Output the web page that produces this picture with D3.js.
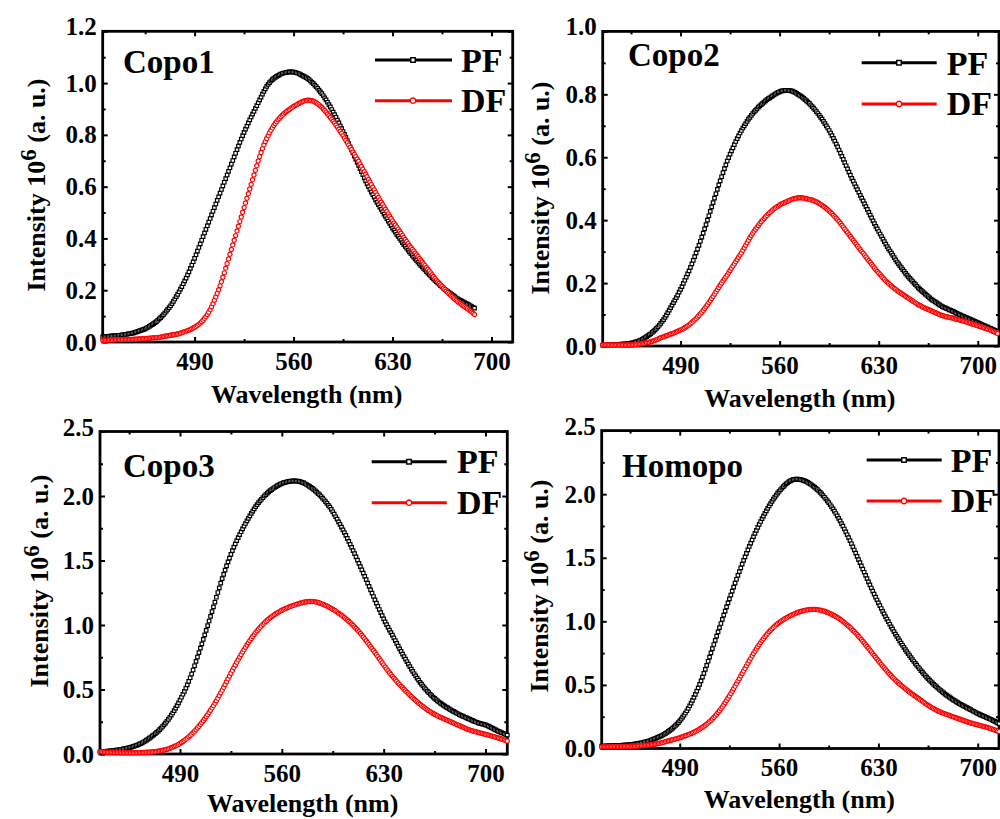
<!DOCTYPE html>
<html><head><meta charset="utf-8">
<script src="https://cdn.jsdelivr.net/npm/d3@7"></script>
<style>body{margin:0;background:#fff}svg{display:block}</style>
</head><body>
<svg id="chart" width="1000" height="819"></svg>
<script>
// ---------------- data ----------------
const panelNames = ["Copo1", "Copo2", "Copo3", "Homopo"];
const seriesNames = ["PF", "DF"];
const xTitle = "Wavelength (nm)";
const xTickValues = [490, 560, 630, 700];
const xMinorValues = [455, 525, 595, 665];
const yTicksCopo1 = [0, 0.2, 0.4, 0.6, 0.8, 1.0, 1.2];
const yTicksCopo2 = [0, 0.2, 0.4, 0.6, 0.8, 1.0];
const yTicksCopo3 = [0, 0.5, 1.0, 1.5, 2.0, 2.5];
const yTicksHomopo = [0, 0.5, 1.0, 1.5, 2.0, 2.5];

// spectra sampled every 1 nm, first wavelength given by *Start
const copo1Start = 425;
const copo1PF = [
.020,.021,.021,.022,.022,.023,.023,.024,.024,.025,
.025,.026,.026,.027,.028,.028,.029,.030,.031,.032,
.033,.034,.035,.037,.039,.041,.043,.045,.047,.049,
.051,.054,.057,.060,.064,.067,.071,.075,.079,.084,
.089,.094,.100,.106,.112,.119,.126,.133,.140,.148,
.157,.166,.175,.184,.194,.204,.214,.225,.236,.247,
.259,.271,.284,.297,.310,.323,.337,.351,.365,.379,
.393,.407,.421,.435,.449,.463,.477,.491,.505,.519,
.533,.547,.561,.575,.589,.603,.617,.631,.645,.659,
.673,.687,.701,.715,.729,.743,.757,.771,.784,.797,
.810,.822,.834,.846,.858,.869,.880,.891,.902,.913,
.924,.935,.946,.957,.968,.978,.987,.995,1.002,1.008,
1.013,1.018,1.022,1.026,1.029,1.032,1.035,1.037,1.039,1.040,
1.041,1.042,1.043,1.043,1.043,1.042,1.041,1.040,1.038,1.036,
1.033,1.030,1.027,1.024,1.021,1.017,1.013,1.008,1.003,.998,
.992,.986,.980,.973,.966,.959,.951,.943,.935,.926,
.917,.908,.898,.888,.878,.868,.857,.846,.835,.824,
.813,.802,.790,.778,.766,.754,.742,.730,.718,.706,
.694,.682,.670,.658,.646,.634,.622,.611,.600,.589,
.579,.569,.559,.549,.539,.530,.521,.512,.503,.494,
.485,.476,.467,.458,.449,.440,.432,.424,.416,.408,
.400,.392,.384,.376,.369,.362,.355,.348,.341,.334,
.328,.321,.315,.308,.302,.296,.290,.284,.278,.272,
.266,.260,.255,.249,.244,.238,.233,.228,.223,.218,
.213,.208,.203,.199,.195,.191,.187,.183,.179,.175,
.171,.167,.164,.161,.158,.155,.152,.149,.146,.143,
.140,.137,.134,.131];
const copo1DF = [
.007,.007,.007,.007,.008,.008,.008,.008,.008,.009,
.009,.009,.009,.009,.009,.010,.010,.010,.010,.010,
.010,.010,.011,.011,.011,.012,.012,.012,.013,.013,
.013,.014,.014,.015,.015,.016,.016,.017,.017,.018,
.018,.019,.020,.021,.022,.023,.024,.025,.026,.027,
.028,.029,.030,.031,.032,.034,.036,.038,.040,.042,
.044,.046,.048,.051,.054,.057,.060,.064,.068,.073,
.078,.084,.091,.098,.106,.115,.125,.136,.148,.161,
.174,.188,.202,.217,.233,.250,.267,.285,.303,.321,
.339,.357,.375,.393,.411,.429,.447,.465,.483,.501,
.519,.537,.555,.573,.591,.609,.627,.645,.663,.681,
.699,.716,.732,.747,.761,.774,.786,.797,.808,.818,
.827,.836,.844,.851,.858,.864,.870,.876,.881,.886,
.890,.894,.898,.902,.906,.910,.913,.916,.919,.922,
.925,.928,.930,.932,.933,.934,.934,.933,.932,.930,
.927,.924,.920,.916,.911,.906,.900,.894,.888,.881,
.874,.867,.860,.853,.846,.838,.830,.822,.814,.806,
.797,.788,.779,.770,.761,.752,.743,.734,.725,.716,
.707,.698,.688,.678,.668,.658,.648,.638,.628,.618,
.608,.598,.588,.578,.568,.558,.549,.540,.531,.522,
.513,.504,.495,.486,.477,.468,.460,.452,.444,.436,
.428,.420,.412,.404,.396,.388,.380,.372,.365,.358,
.351,.344,.337,.330,.323,.316,.309,.302,.295,.288,
.281,.274,.267,.260,.253,.246,.239,.233,.227,.221,
.215,.209,.203,.197,.191,.186,.181,.176,.171,.166,
.161,.156,.152,.148,.144,.140,.136,.132,.128,.124,
.120,.116,.111,.106];

const copo2Start = 435;
const copo2PF = [
.003,.003,.003,.003,.003,.004,.004,.004,.004,.005,
.005,.005,.005,.006,.006,.006,.007,.007,.008,.008,
.009,.010,.011,.012,.014,.015,.017,.019,.021,.024,
.027,.030,.033,.036,.039,.043,.047,.051,.056,.061,
.066,.072,.078,.084,.091,.098,.106,.114,.122,.130,
.138,.146,.154,.162,.171,.180,.189,.199,.209,.219,
.229,.239,.250,.261,.272,.284,.296,.308,.320,.333,
.346,.359,.372,.386,.400,.414,.428,.442,.456,.470,
.484,.498,.512,.525,.538,.551,.564,.576,.588,.599,
.610,.620,.630,.640,.650,.659,.668,.677,.685,.693,
.700,.707,.714,.721,.727,.733,.739,.744,.749,.754,
.759,.763,.767,.771,.775,.779,.783,.786,.789,.792,
.795,.798,.801,.804,.806,.808,.810,.811,.812,.813,
.813,.813,.812,.811,.810,.808,.806,.803,.800,.797,
.794,.791,.787,.783,.779,.775,.771,.766,.761,.756,
.751,.745,.739,.733,.727,.721,.714,.707,.700,.693,
.685,.677,.669,.660,.651,.642,.633,.623,.613,.603,
.593,.583,.573,.563,.553,.543,.533,.524,.515,.506,
.497,.488,.479,.470,.461,.452,.443,.434,.425,.416,
.407,.398,.389,.380,.372,.364,.356,.348,.340,.332,
.324,.316,.309,.302,.295,.288,.281,.274,.267,.261,
.255,.249,.243,.237,.231,.225,.220,.215,.210,.205,
.200,.195,.190,.185,.181,.177,.173,.169,.165,.161,
.157,.153,.149,.146,.143,.140,.137,.134,.131,.128,
.125,.123,.121,.119,.117,.115,.113,.111,.109,.107,
.104,.102,.100,.098,.096,.094,.092,.090,.088,.086,
.084,.082,.080,.078,.076,.074,.072,.070,.068,.066,
.064,.062,.060,.058,.056,.054,.052,.050,.048,.046];
const copo2DF = [
.003,.003,.003,.003,.003,.003,.003,.003,.003,.003,
.003,.003,.003,.003,.003,.003,.003,.003,.003,.003,
.003,.003,.004,.005,.005,.006,.006,.007,.008,.008,
.009,.010,.011,.012,.014,.015,.017,.018,.020,.022,
.024,.026,.028,.029,.031,.033,.034,.036,.038,.039,
.041,.043,.045,.047,.049,.051,.053,.055,.058,.061,
.064,.067,.071,.075,.079,.083,.087,.092,.097,.102,
.107,.113,.119,.125,.131,.138,.144,.151,.158,.165,
.172,.179,.186,.193,.200,.207,.213,.219,.226,.233,
.240,.247,.254,.261,.268,.275,.282,.289,.296,.304,
.312,.320,.328,.336,.344,.351,.358,.365,.371,.377,
.383,.389,.395,.400,.405,.410,.415,.420,.424,.428,
.432,.436,.439,.442,.445,.448,.451,.453,.455,.457,
.459,.461,.463,.465,.467,.468,.469,.470,.471,.471,
.471,.471,.470,.469,.468,.467,.466,.465,.464,.462,
.460,.458,.456,.453,.450,.447,.444,.441,.437,.433,
.429,.425,.421,.416,.411,.406,.401,.396,.390,.384,
.378,.372,.366,.360,.354,.348,.342,.336,.330,.324,
.318,.312,.306,.300,.295,.289,.283,.277,.271,.266,
.260,.254,.248,.242,.237,.232,.227,.222,.217,.212,
.207,.203,.199,.195,.191,.187,.183,.180,.176,.173,
.170,.167,.164,.161,.158,.155,.152,.149,.146,.143,
.140,.137,.134,.131,.129,.127,.124,.122,.120,.118,
.116,.114,.112,.110,.108,.106,.104,.102,.100,.098,
.097,.095,.094,.093,.092,.091,.090,.089,.088,.086,
.085,.084,.083,.081,.080,.079,.078,.076,.075,.073,
.072,.070,.069,.067,.066,.064,.063,.061,.060,.058,
.057,.055,.054,.052,.050,.048,.046,.044,.042,.040];

const copo3Start = 435;
const copo3PF = [
.017,.018,.019,.020,.021,.022,.023,.024,.025,.027,
.028,.030,.031,.033,.035,.037,.039,.041,.043,.046,
.049,.052,.055,.059,.063,.067,.071,.076,.081,.087,
.093,.100,.107,.115,.123,.131,.140,.149,.158,.168,
.178,.189,.201,.213,.226,.240,.254,.269,.285,.301,
.318,.336,.355,.375,.396,.418,.440,.463,.486,.510,
.536,.563,.591,.620,.651,.684,.718,.752,.786,.820,
.854,.889,.924,.959,.995,1.031,1.067,1.104,1.141,1.178,
1.215,1.252,1.288,1.324,1.359,1.393,1.426,1.458,1.489,1.519,
1.548,1.576,1.603,1.629,1.654,1.678,1.701,1.723,1.745,1.766,
1.787,1.807,1.827,1.846,1.865,1.883,1.900,1.917,1.933,1.948,
1.962,1.975,1.988,2.000,2.011,2.022,2.032,2.041,2.050,2.058,
2.066,2.073,2.080,2.086,2.092,2.097,2.101,2.105,2.108,2.111,
2.113,2.115,2.116,2.117,2.117,2.116,2.115,2.113,2.110,2.106,
2.101,2.095,2.089,2.082,2.075,2.067,2.059,2.050,2.040,2.030,
2.019,2.008,1.996,1.984,1.971,1.957,1.943,1.928,1.913,1.897,
1.878,1.859,1.839,1.820,1.800,1.780,1.759,1.738,1.716,1.694,
1.671,1.648,1.625,1.601,1.577,1.553,1.528,1.503,1.478,1.453,
1.428,1.402,1.377,1.351,1.325,1.299,1.273,1.247,1.221,1.195,
1.170,1.145,1.120,1.096,1.072,1.048,1.025,1.003,.982,.961,
.941,.921,.900,.879,.857,.836,.815,.795,.775,.755,
.735,.715,.696,.677,.658,.640,.622,.605,.588,.572,
.556,.541,.527,.513,.500,.487,.475,.463,.452,.441,
.431,.421,.412,.403,.395,.387,.379,.371,.364,.357,
.350,.343,.336,.330,.324,.318,.312,.306,.300,.295,
.290,.285,.280,.275,.270,.265,.260,.255,.250,.246,
.242,.238,.235,.232,.229,.225,.221,.216,.211,.205,
.199,.193,.187,.181,.176,.171,.166,.161,.156,.151,.147];
const copo3DF = [
.018,.017,.016,.015,.015,.014,.014,.013,.013,.012,
.012,.012,.011,.011,.011,.010,.010,.010,.010,.010,
.010,.010,.010,.010,.010,.010,.010,.011,.011,.011,
.012,.012,.013,.013,.014,.015,.016,.017,.018,.020,
.022,.024,.026,.028,.031,.034,.037,.040,.044,.048,
.053,.058,.063,.069,.075,.082,.089,.097,.105,.114,
.123,.133,.143,.154,.165,.177,.189,.202,.215,.229,
.243,.258,.273,.289,.305,.322,.339,.357,.375,.394,
.413,.433,.453,.474,.495,.516,.538,.560,.582,.604,
.626,.648,.669,.690,.711,.731,.751,.771,.790,.809,
.827,.845,.862,.879,.895,.911,.926,.941,.955,.968,
.981,.993,1.005,1.016,1.027,1.037,1.047,1.056,1.065,1.073,
1.081,1.088,1.095,1.102,1.108,1.114,1.120,1.125,1.130,1.135,
1.140,1.144,1.148,1.152,1.156,1.160,1.164,1.167,1.170,1.173,
1.176,1.178,1.180,1.181,1.182,1.182,1.182,1.181,1.179,1.177,
1.174,1.170,1.166,1.162,1.157,1.152,1.147,1.141,1.135,1.129,
1.122,1.115,1.108,1.100,1.092,1.084,1.076,1.067,1.058,1.049,
1.039,1.029,1.019,1.008,.997,.985,.973,.961,.948,.935,
.921,.907,.893,.878,.863,.848,.833,.818,.803,.787,
.771,.755,.739,.723,.707,.691,.675,.660,.645,.630,
.616,.602,.589,.576,.563,.550,.538,.526,.514,.502,
.490,.479,.468,.457,.446,.435,.425,.415,.405,.395,
.386,.377,.368,.359,.351,.343,.335,.328,.321,.314,
.308,.302,.296,.290,.285,.280,.275,.270,.265,.260,
.255,.250,.245,.240,.235,.230,.225,.220,.215,.210,
.205,.200,.195,.191,.187,.183,.179,.176,.173,.170,
.167,.164,.161,.158,.155,.152,.149,.146,.143,.140,
.137,.134,.131,.128,.124,.120,.116,.112,.108,.104,.100];

const homopoStart = 435;
const homopoPF = [
.018,.018,.019,.019,.020,.020,.021,.021,.022,.022,
.023,.023,.024,.024,.025,.026,.027,.027,.028,.029,
.030,.031,.032,.034,.036,.038,.040,.042,.044,.047,
.050,.053,.056,.059,.063,.067,.071,.075,.080,.085,
.090,.095,.100,.106,.112,.119,.126,.134,.142,.151,
.160,.170,.181,.192,.204,.217,.231,.246,.262,.279,
.297,.316,.336,.357,.379,.402,.426,.451,.477,.504,
.532,.561,.591,.622,.654,.686,.719,.752,.785,.818,
.851,.884,.917,.950,.983,1.016,1.049,1.081,1.113,1.145,
1.176,1.207,1.238,1.269,1.300,1.331,1.361,1.391,1.421,1.450,
1.479,1.507,1.535,1.562,1.589,1.615,1.641,1.666,1.691,1.715,
1.739,1.762,1.785,1.807,1.828,1.849,1.869,1.889,1.908,1.926,
1.944,1.961,1.977,1.993,2.008,2.022,2.035,2.048,2.060,2.071,
2.081,2.090,2.098,2.105,2.110,2.114,2.117,2.118,2.118,2.117,
2.115,2.112,2.109,2.105,2.100,2.094,2.087,2.080,2.072,2.064,
2.055,2.046,2.036,2.025,2.014,2.002,1.989,1.976,1.962,1.948,
1.933,1.917,1.901,1.884,1.866,1.848,1.829,1.810,1.790,1.769,
1.748,1.726,1.704,1.681,1.658,1.634,1.610,1.586,1.561,1.536,
1.511,1.486,1.461,1.436,1.411,1.386,1.361,1.336,1.311,1.286,
1.262,1.238,1.214,1.191,1.168,1.145,1.123,1.101,1.079,1.058,
1.037,1.017,.997,.977,.957,.938,.919,.900,.882,.864,
.846,.829,.812,.795,.778,.762,.746,.730,.714,.699,
.684,.669,.655,.641,.627,.613,.600,.587,.574,.562,
.550,.538,.527,.516,.505,.494,.484,.474,.464,.455,
.446,.437,.428,.420,.412,.404,.396,.388,.381,.374,
.367,.360,.353,.347,.341,.335,.329,.323,.317,.311,
.305,.299,.293,.287,.281,.275,.270,.265,.260,.255,
.250,.245,.240,.235,.230,.225,.219,.213,.207,.201,.195];
const homopoDF = [
.013,.013,.013,.013,.014,.014,.014,.014,.015,.015,
.015,.015,.016,.016,.016,.016,.017,.017,.017,.017,
.018,.018,.018,.019,.019,.020,.021,.021,.022,.023,
.024,.025,.026,.027,.028,.030,.031,.033,.035,.037,
.039,.042,.044,.047,.050,.054,.057,.060,.063,.066,
.069,.072,.075,.078,.081,.084,.088,.092,.096,.100,
.104,.109,.113,.118,.123,.128,.134,.140,.146,.153,
.160,.167,.175,.183,.192,.201,.211,.221,.232,.244,
.256,.269,.283,.297,.312,.327,.343,.360,.377,.395,
.413,.432,.451,.470,.490,.510,.530,.550,.570,.590,
.610,.630,.650,.670,.690,.709,.728,.747,.765,.783,
.800,.817,.833,.849,.864,.878,.892,.905,.918,.930,
.941,.952,.962,.972,.981,.990,.998,1.006,1.013,1.020,
1.027,1.033,1.039,1.045,1.050,1.055,1.060,1.065,1.069,1.073,
1.077,1.080,1.083,1.086,1.088,1.090,1.092,1.093,1.094,1.094,
1.094,1.093,1.092,1.090,1.088,1.085,1.082,1.079,1.075,1.071,
1.066,1.061,1.056,1.050,1.044,1.038,1.031,1.024,1.016,1.008,
1.000,.991,.982,.972,.962,.952,.941,.930,.919,.907,
.895,.883,.870,.857,.844,.830,.816,.802,.788,.774,
.760,.746,.732,.718,.704,.690,.676,.662,.648,.635,
.622,.609,.596,.584,.572,.560,.549,.538,.527,.517,
.507,.497,.488,.479,.470,.461,.452,.443,.435,.427,
.419,.411,.403,.395,.387,.379,.371,.363,.355,.347,
.340,.333,.326,.319,.313,.307,.301,.295,.290,.285,
.280,.276,.272,.268,.264,.260,.256,.252,.248,.244,
.240,.236,.232,.228,.224,.220,.216,.212,.208,.204,
.201,.198,.195,.192,.189,.186,.183,.180,.177,.174,
.171,.168,.165,.161,.157,.153,.149,.145,.141,.137,.133];

// ---------------- layout (positions only) ----------------
const FONT = '"Liberation Serif","Times New Roman",Times,serif';
const panels = [
  {name: panelNames[0], start: copo1Start, pf: copo1PF, df: copo1DF, yTicks: yTicksCopo1,
   left: 102.7, right: 512.7, top: 31.3, bottom: 342, xDomain: [425, 715],
   label: [123, 73], ytitle: [45, 185], xtitleY: 403,
   leg: {x1: 375, x2: 452, xm: 413, tx: 461, y1: 60, y2: 100.7, b1: 72, b2: 112}},
  {name: panelNames[1], start: copo2Start, pf: copo2PF, df: copo2DF, yTicks: yTicksCopo2,
   left: 602.7, right: 999, top: 31.4, bottom: 346, xDomain: [435, 715],
   label: [628, 66], ytitle: [549, 188], xtitleY: 407,
   leg: {x1: 861.7, x2: 936.7, xm: 899, tx: 946.7, y1: 62.7, y2: 104, b1: 75, b2: 115}},
  {name: panelNames[2], start: copo3Start, pf: copo3PF, df: copo3DF, yTicks: yTicksCopo3,
   left: 100, right: 507.3, top: 431.5, bottom: 754, xDomain: [435, 715],
   label: [123, 477], ytitle: [48, 581], xtitleY: 812,
   leg: {x1: 371.7, x2: 446.7, xm: 409, tx: 457, y1: 461.7, y2: 502.7, b1: 472.7, b2: 514}},
  {name: panelNames[3], start: homopoStart, pf: homopoPF, df: homopoDF, yTicks: yTicksHomopo,
   left: 601.7, right: 999, top: 430.6, bottom: 748.5, xDomain: [435, 715],
   label: [622, 477], ytitle: [548, 586], xtitleY: 808,
   leg: {x1: 866.7, x2: 941.7, xm: 904, tx: 950.7, y1: 460, y2: 501, b1: 471.7, b2: 511.7}}
];

const svg = d3.select("#chart");
svg.append("rect").attr("width", 1000).attr("height", 819).attr("fill", "#fff");

const squareSym = d3.symbol().type(d3.symbolSquare);
const circleSym = d3.symbol().type(d3.symbolCircle);

function styleAxis(g) {
  g.select(".domain").remove();
  g.selectAll(".tick line").attr("stroke", "#000").attr("stroke-width", 2);
  g.attr("font-family", FONT).attr("font-size", 25).attr("font-weight", "bold");
  g.selectAll(".tick text").attr("fill", "#000");
}

panels.forEach(p => {
  const g = svg.append("g");
  const x = d3.scaleLinear().domain(p.xDomain).range([p.left, p.right]);
  const yMax = p.yTicks[p.yTicks.length - 1];
  const y = d3.scaleLinear().domain([0, yMax]).range([p.bottom, p.top]);
  const xMaj = xTickValues.filter(v => v >= p.xDomain[0] && v <= p.xDomain[1]);
  const xMin = xMinorValues.filter(v => v >= p.xDomain[0] && v <= p.xDomain[1]);
  const yMin = d3.pairs(p.yTicks).map(([a, b]) => (a + b) / 2);

  // frame
  g.append("rect").attr("x", p.left).attr("y", p.top)
    .attr("width", p.right - p.left).attr("height", p.bottom - p.top)
    .attr("fill", "none").attr("stroke", "#000").attr("stroke-width", 2.8);

  // bottom axis
  const gb = g.append("g").attr("transform", `translate(0,${p.bottom})`)
    .call(d3.axisBottom(x).tickValues(xMaj).tickSize(-5).tickFormat(d3.format("d")));
  styleAxis(gb);
  gb.selectAll(".tick text").attr("y", 27.5).attr("dy", 0);
  styleAxis(g.append("g").attr("transform", `translate(0,${p.bottom})`)
    .call(d3.axisBottom(x).tickValues(xMin).tickSize(-3).tickFormat("")));
  // top mirror
  styleAxis(g.append("g").attr("transform", `translate(0,${p.top})`)
    .call(d3.axisTop(x).tickValues(xMaj).tickSize(-5).tickFormat("")));
  styleAxis(g.append("g").attr("transform", `translate(0,${p.top})`)
    .call(d3.axisTop(x).tickValues(xMin).tickSize(-3).tickFormat("")));

  // left axis
  const gl = g.append("g").attr("transform", `translate(${p.left},0)`)
    .call(d3.axisLeft(y).tickValues(p.yTicks).tickSize(-5).tickFormat(d3.format(".1f")));
  styleAxis(gl);
  gl.selectAll(".tick text").attr("x", -6).attr("dy", 0)
    .attr("y", d => d === yMax ? 3.5 : 8);
  styleAxis(g.append("g").attr("transform", `translate(${p.left},0)`)
    .call(d3.axisLeft(y).tickValues(yMin).tickSize(-3).tickFormat("")));
  // right mirror
  styleAxis(g.append("g").attr("transform", `translate(${p.right},0)`)
    .call(d3.axisRight(y).tickValues(p.yTicks).tickSize(-5).tickFormat("")));
  styleAxis(g.append("g").attr("transform", `translate(${p.right},0)`)
    .call(d3.axisRight(y).tickValues(yMin).tickSize(-3).tickFormat("")));

  // axis titles
  g.append("text").attr("x", (p.left + p.right) / 2 - 1).attr("y", p.xtitleY)
    .attr("text-anchor", "middle").attr("font-family", FONT).attr("font-weight", "bold")
    .attr("font-size", 26).text(xTitle);
  const yt = g.append("text")
    .attr("transform", `translate(${p.ytitle[0]},${p.ytitle[1]}) rotate(-90)`)
    .attr("text-anchor", "middle").attr("font-family", FONT).attr("font-weight", "bold")
    .attr("font-size", 26);
  yt.append("tspan").text("Intensity 10");
  yt.append("tspan").attr("dy", -9).attr("font-size", 23).text("6");
  yt.append("tspan").attr("dy", 9).text(" (a. u.)");

  // data
  g.append("g").selectAll("path").data(p.pf).join("path")
    .attr("transform", (d, i) => `translate(${x(p.start + i)},${y(d)})`)
    .attr("d", squareSym.size(12.25)())
    .attr("fill", "#fff").attr("stroke", "#000").attr("stroke-width", 1.2);
  g.append("g").selectAll("path").data(p.df).join("path")
    .attr("transform", (d, i) => `translate(${x(p.start + i)},${y(d)})`)
    .attr("d", circleSym.size(Math.PI * 2.1 * 2.1)())
    .attr("fill", "#fff").attr("stroke", "#ff0000").attr("stroke-width", 1.2);

  // panel label
  g.append("text").attr("x", p.label[0]).attr("y", p.label[1])
    .attr("font-family", FONT).attr("font-weight", "bold").attr("font-size", 33)
    .text(p.name);

  // legend
  const L = p.leg;
  [[seriesNames[0], "#000", L.y1, L.b1, squareSym.size(20)()],
   [seriesNames[1], "#ff0000", L.y2, L.b2, circleSym.size(Math.PI * 2.7 * 2.7)()]]
    .forEach(([nm, col, ly, bl, sym]) => {
      g.append("line").attr("x1", L.x1).attr("x2", L.x2).attr("y1", ly).attr("y2", ly)
        .attr("stroke", col).attr("stroke-width", 3);
      g.append("path").attr("d", sym).attr("transform", `translate(${L.xm},${ly})`)
        .attr("fill", "#fff").attr("stroke", col).attr("stroke-width", 1.4);
      g.append("text").attr("x", L.tx).attr("y", bl)
        .attr("font-family", FONT).attr("font-weight", "bold").attr("font-size", 34)
        .text(nm);
    });
});
</script>
</body></html>
